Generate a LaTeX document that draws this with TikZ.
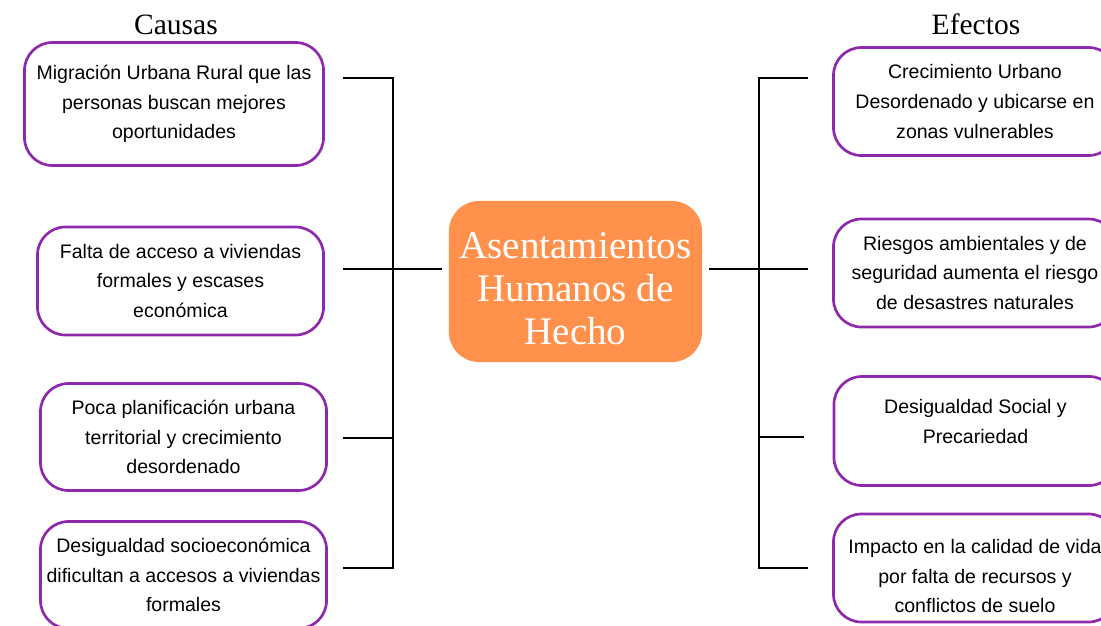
\documentclass[tikz,border=0pt]{standalone}
\usepackage{fontspec}
\setmainfont{Liberation Serif}
\newfontfamily\cajafont{Liberation Sans}
\definecolor{morado}{RGB}{142,40,172}
\definecolor{naranja}{RGB}{255,145,77}

\begin{document}
\begin{tikzpicture}[x=0.025cm,y=-0.025cm,
        caja/.style={draw=morado,line width=1.9pt,rounded corners=0.7cm,fill=white,align=center,
            inner sep=0pt,font=\cajafont\fontsize{13.9}{21}\selectfont},
        causa/.style={caja,minimum width=7.15cm,minimum height=2.7cm},
        efecto/.style={caja,minimum width=7.075cm,minimum height=2.7cm},
        centro/.style={fill=naranja,rounded corners=0.75cm,align=center,text=white,
            font=\fontsize{27.8}{30.6}\selectfont,minimum width=6.325cm,minimum height=4.025cm},
        titulo/.style={anchor=base,font=\fontsize{21}{24}\selectfont},
        rama/.style={line width=0.8pt}]
        \useasboundingbox (0,0) rectangle (1101,626);
        % Centro
        \node[centro] (hecho) at (575.5,281.5) {\rule{0pt}{29pt}Asentamientos\\Humanos de\\Hecho};
        % Causas
        \node[titulo] (tcausas) at (176,34) {Causas};
        \node[causa,minimum width=7.475cm,minimum height=3.075cm] (causa1) at (174,104)
            {Migración Urbana Rural que las\\personas buscan mejores\\oportunidades};
        \node[causa] (causa2) at (180.5,281) {Falta de acceso a viviendas\\formales y escases\\económica};
        \node[causa,minimum height=2.675cm] (causa3) at (183.5,437) {Poca planificación urbana\\territorial y crecimiento\\desordenado};
        \node[causa,minimum height=2.675cm] (causa4) at (183.5,575) {Desigualdad socioeconómica\\dificultan a accesos a viviendas\\formales};
        % Efectos
        \node[titulo] (tefectos) at (976,34) {Efectos};
        \node[efecto] (efecto1) at (975,101.5) {Crecimiento Urbano\\Desordenado y ubicarse en\\zonas vulnerables};
        \node[efecto] (efecto2) at (975,273) {Riesgos ambientales y de\\seguridad aumenta el riesgo\\de desastres naturales};
        \node[efecto,minimum height=2.725cm,text depth=13.6pt] (efecto3) at (975.5,431) {Desigualdad Social y\\Precariedad};
        \node[efecto] (efecto4) at (975,568) {\rule{0pt}{21.5pt}Impacto en la calidad de vida\\por falta de recursos y\\conflictos de suelo};
        % Ramas izquierda
        \coordinate (c1) at (343,78);
        \coordinate (c2) at (343,269);
        \coordinate (c3) at (343,438);
        \coordinate (c4) at (343,568);
        \coordinate (t1) at (393,78);
        \coordinate (t3) at (393,438);
        \coordinate (t4) at (393,568);
        \draw[rama] (c1) -- (t1) -- (t4) -- (c4);
        \draw[rama] (c3) -- (t3);
        \draw[rama] (c2) -- ([xshift=-0.175cm]hecho.west |- c2);
        % Ramas derecha
        \coordinate (e1) at (808,78);
        \coordinate (e2) at (808,269);
        \coordinate (e3) at (804,437);
        \coordinate (e4) at (808,568);
        \coordinate (s1) at (759,78);
        \coordinate (s3) at (759,437);
        \coordinate (s4) at (759,568);
        \draw[rama] (e1) -- (s1) -- (s4) -- (e4);
        \draw[rama] (s3) -- (e3);
        \draw[rama] ([xshift=0.175cm]hecho.east |- e2) -- (e2);
    \end{tikzpicture}
\end{document}
